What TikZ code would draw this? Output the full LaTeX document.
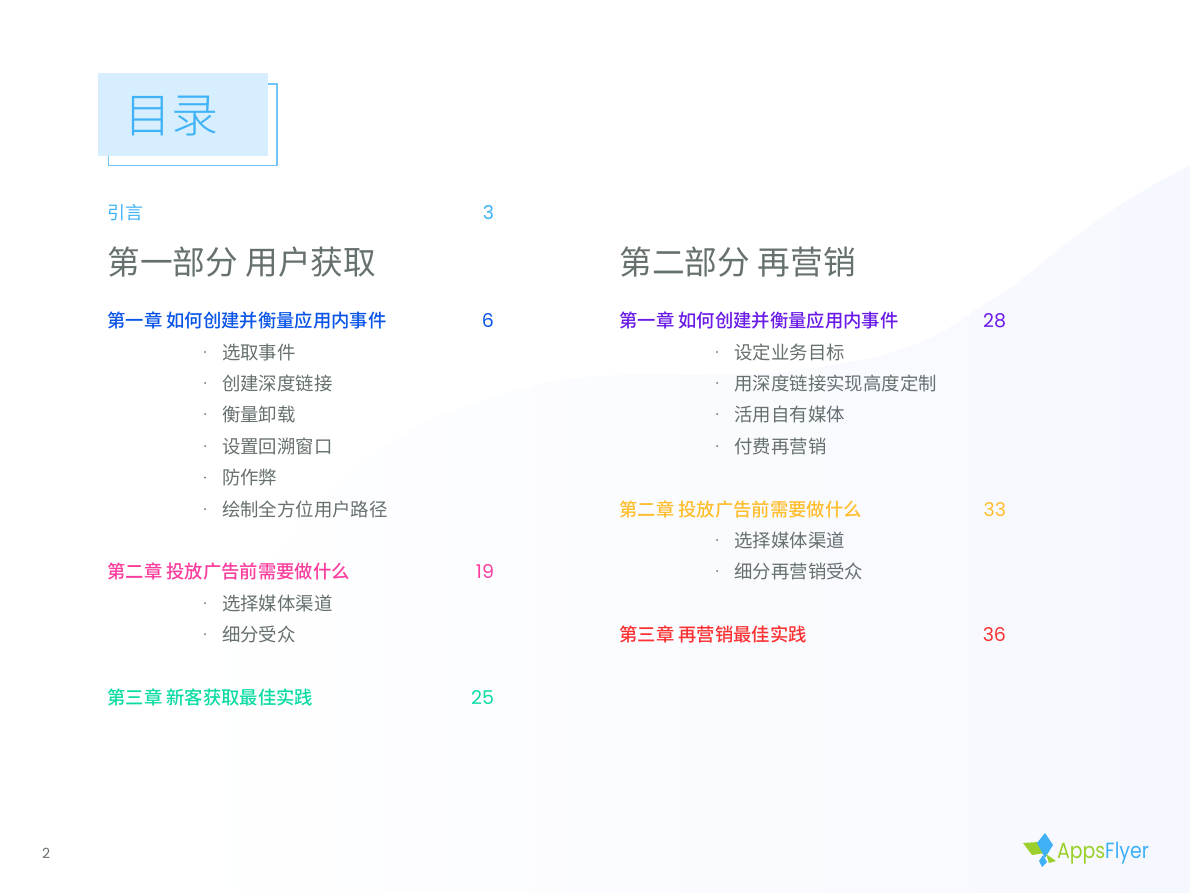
\documentclass[tikz,border=0pt]{standalone}
\usepackage{fontspec}
\setmainfont{Poppins}
\newfontfamily\cjk{Noto Sans CJK SC}
\newfontfamily\cjkm{Noto Sans CJK SC Medium}
\newfontfamily\cjkl{Noto Sans CJK SC Light}
\definecolor{introc}{HTML}{3FB2F8}
\definecolor{grayt}{HTML}{66706F}
\definecolor{bluec}{HTML}{0A55E8}
\definecolor{pinkc}{HTML}{FB3E9E}
\definecolor{tealc}{HTML}{0CDCA4}
\definecolor{purpc}{HTML}{6A1BE8}
\definecolor{yelc}{HTML}{FFBE2E}
\definecolor{redc}{HTML}{FB3232}
\definecolor{bga}{HTML}{F9FAFF}
\definecolor{bgb}{HTML}{F6F8FF}
\definecolor{titlebg}{HTML}{D6EEFD}
\definecolor{outl}{HTML}{6FC3F8}
\definecolor{logog}{HTML}{9BD02C}
\definecolor{logob}{HTML}{3FB0F6}
\tikzset{
 x=1pt,y=-1pt,
 base/.style={inner sep=0pt,outer sep=0pt,anchor=base west},
 chap/.style={base,font=\cjkm\fontsize{18.33}{18.33}\selectfont},
 num/.style={inner sep=0pt,outer sep=0pt,anchor=base east,font=\fontsize{19}{19}\selectfont},
 itemt/.style={base,font=\cjk\fontsize{18.4}{18.4}\selectfont,text=grayt},
 dotm/.style={circle,fill=grayt,inner sep=0pt,minimum size=2pt},
 parth/.style={base,font=\cjk\fontsize{32.7}{32.7}\selectfont,text=grayt},
 logot/.style={base,xscale=.86,font=\fontsize{22}{22}\selectfont},
}
\begin{document}
\begin{tikzpicture}
\useasboundingbox (0,0) rectangle (1190,893);
\fill[white] (0,0) rectangle (1190,893);
% background blob
\shade[left color=white,middle color=bga,right color=bgb]
 plot[smooth,tension=.55] coordinates {(1190,165) (1150,187) (1117,207) (1067,243) (1017,283) (983,305) (933,337) (883,355) (850,362) (780,372) (700,375) (620,375) (550,382) (483,400) (417,427) (350,473) (283,547) (233,617) (200,700) (175,800) (165,893)}
 -- (1190,893) -- cycle;
% title
\draw[outl,line width=1.2pt] (108.5,84) -- (277,84) -- (277,165.5) -- (108.5,165.5) -- cycle;
\fill[titlebg] (98,73) rectangle (268,156);
\node[base,font=\cjkl\fontsize{47}{47}\selectfont,text=introc] (title) at (124,132.5) {目录};
% intro
\node[base,font=\cjk\fontsize{18}{18}\selectfont,text=introc] (intro) at (107.5,220) {引言};
\node[num,text=introc] (intron) at (494,220) {3};
% left column
\node[parth] (p1) at (107.5,274) {第一部分 用户获取};
\node[chap,text=bluec] (c11) at (107.5,327.5) {第一章 如何创建并衡量应用内事件};
\node[num,text=bluec] (c11n) at (494,327) {6};
\foreach \t/\yy in {选取事件/359,创建深度链接/390,衡量卸载/421,设置回溯窗口/453,防作弊/484.5,绘制全方位用户路径/516,选择媒体渠道/610,细分受众/641}{
  \node[itemt] at (222,\yy) {\t};
  \node[dotm] at (205,\yy-7) {};
}
\node[chap,text=pinkc] (c12) at (107.5,578.5) {第二章 投放广告前需要做什么};
\node[num,text=pinkc] (c12n) at (494,578) {19};
\node[chap,text=tealc] (c13) at (107.5,704.5) {第三章 新客获取最佳实践};
\node[num,text=tealc] (c13n) at (494,704) {25};
% right column
\node[parth] (p2) at (619.5,274) {第二部分 再营销};
\node[chap,text=purpc] (c21) at (619.5,327.5) {第一章 如何创建并衡量应用内事件};
\node[num,text=purpc] (c21n) at (1006,327) {28};
\foreach \t/\yy in {设定业务目标/359,用深度链接实现高度定制/390,活用自有媒体/421,付费再营销/453,选择媒体渠道/547,细分再营销受众/578}{
  \node[itemt] at (734.5,\yy) {\t};
  \node[dotm] at (717,\yy-7) {};
}
\node[chap,text=yelc] (c22) at (619.5,516.5) {第二章 投放广告前需要做什么};
\node[num,text=yelc] (c22n) at (1006,516) {33};
\node[chap,text=redc] (c23) at (619.5,641.5) {第三章 再营销最佳实践};
\node[num,text=redc] (c23n) at (1006,641) {36};
% page number
\node[base,font=\fontsize{14}{14}\selectfont,text=grayt] (pg) at (42,858) {2};
% logo
\fill[logog] (1023,843) -- (1038,842) -- (1045,853) -- (1032,855) -- cycle;
\fill[logob] (1045,833) -- (1053,845) -- (1045,858) -- (1037,843) -- cycle;
\fill[logog] (1046,854) -- (1056,861) -- (1049,863) -- cycle;
\fill[logob] (1043,855) -- (1047,862) -- (1042,867) -- (1039,861) -- cycle;
\node[logot,text=logog] (lg1) at (1057,858.5) {Apps};
\node[logot,text=logob] (lg2) at (lg1.base east) {Flyer};
\end{tikzpicture}
\end{document}
